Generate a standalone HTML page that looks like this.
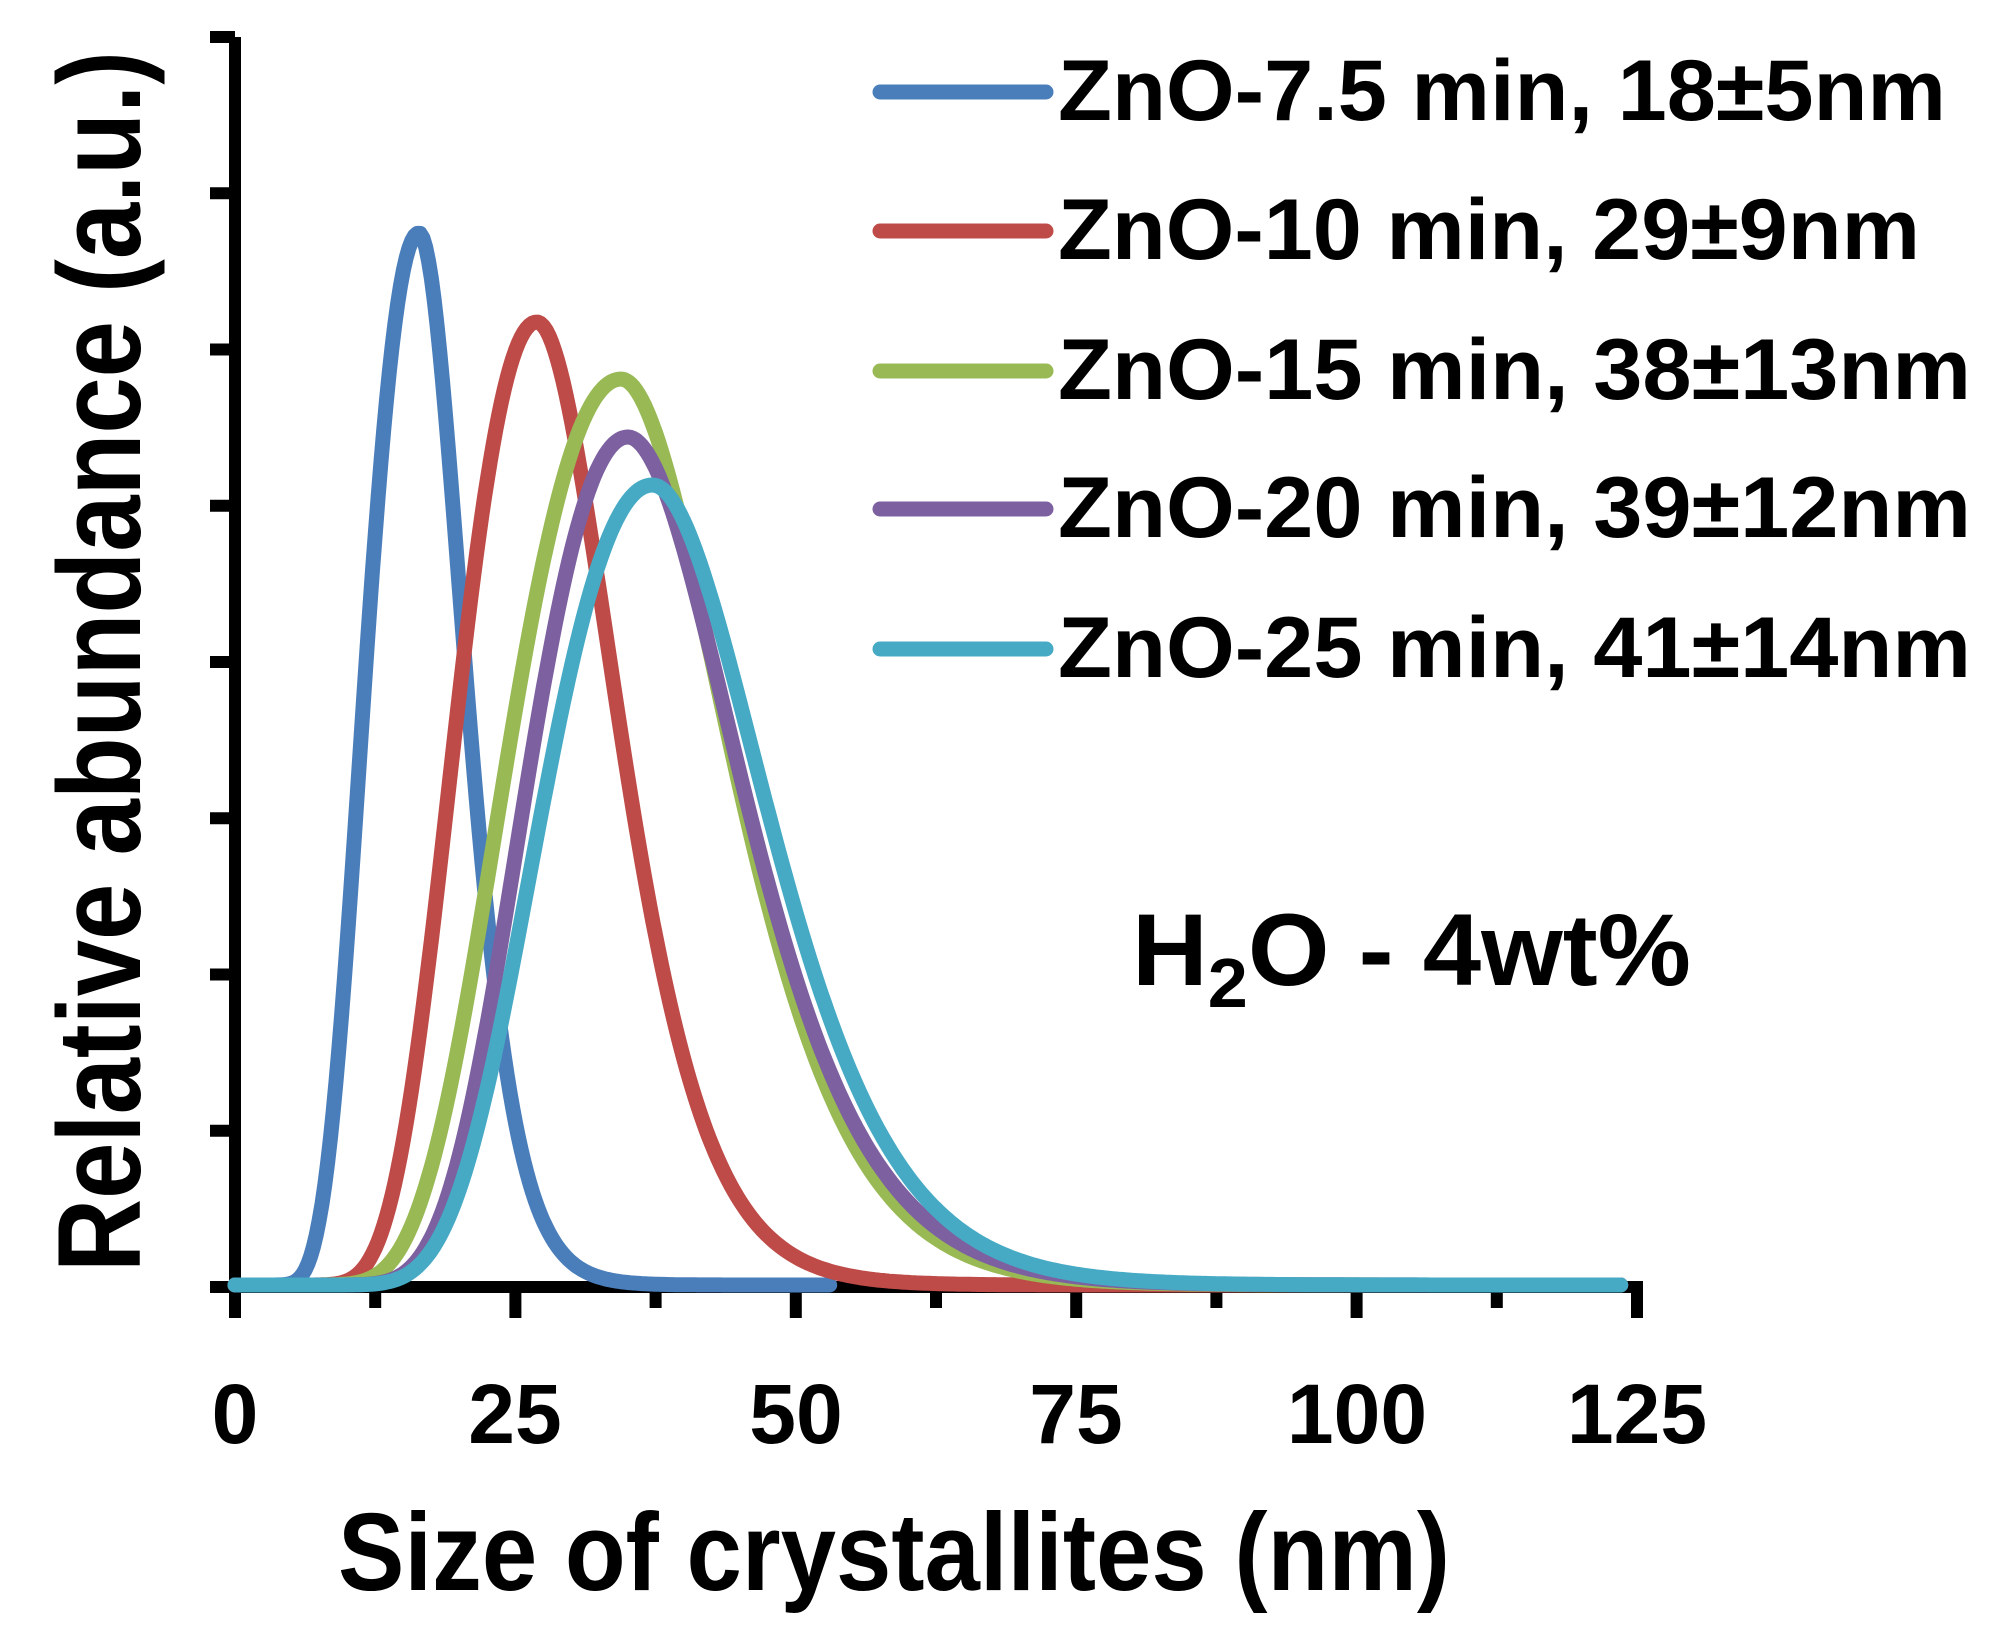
<!DOCTYPE html>
<html><head><meta charset="utf-8"><style>
html,body{margin:0;padding:0;background:#fff;}
svg{display:block;}
text{font-family:"Liberation Sans",sans-serif;font-weight:bold;fill:#000;}
</style></head><body>
<svg id="s" width="1994" height="1641" viewBox="0 0 1994 1641" xmlns="http://www.w3.org/2000/svg">
<rect width="1994" height="1641" fill="#fff"/>
<g id="axes" stroke="#000" stroke-width="12" fill="none">
<line x1="235" y1="37" x2="235" y2="1293"/>
<line x1="223" y1="1287" x2="1643" y2="1287"/>
</g>
<g id="ticks" stroke="#000" stroke-width="12"></g>
<g id="curves" fill="none" stroke-width="15" stroke-linejoin="round" stroke-linecap="round"></g>
<g stroke-width="15" stroke-linecap="round">
<line x1="880" y1="92" x2="1046" y2="92" stroke="#4a7ebb"/>
<line x1="880" y1="231" x2="1046" y2="231" stroke="#be4b48"/>
<line x1="880" y1="371" x2="1046" y2="371" stroke="#98b954"/>
<line x1="880" y1="509" x2="1046" y2="509" stroke="#7d60a0"/>
<line x1="880" y1="649" x2="1046" y2="649" stroke="#46aac5"/>
</g>
<g font-size="86">
<text x="1058" y="120" textLength="888" lengthAdjust="spacingAndGlyphs">ZnO-7.5 min, 18±5nm</text>
<text x="1058" y="259" textLength="862" lengthAdjust="spacingAndGlyphs">ZnO-10 min, 29±9nm</text>
<text x="1058" y="399" textLength="913" lengthAdjust="spacingAndGlyphs">ZnO-15 min, 38±13nm</text>
<text x="1058" y="537" textLength="913" lengthAdjust="spacingAndGlyphs">ZnO-20 min, 39±12nm</text>
<text x="1058" y="677" textLength="913" lengthAdjust="spacingAndGlyphs">ZnO-25 min, 41±14nm</text>
</g>
<text x="1132" y="985" font-size="102" textLength="559" lengthAdjust="spacingAndGlyphs">H<tspan font-size="70" dy="22">2</tspan><tspan dy="-22">O - 4wt%</tspan></text>
<g font-size="84" text-anchor="middle">
<text x="235" y="1443">0</text>
<text x="515" y="1443">25</text>
<text x="796" y="1443">50</text>
<text x="1076" y="1443">75</text>
<text x="1357" y="1443">100</text>
<text x="1637" y="1443">125</text>
</g>
<text x="338" y="1590" font-size="110" textLength="1112" lengthAdjust="spacingAndGlyphs">Size of crystallites (nm)</text>
<text transform="translate(140,1272) rotate(-90)" x="0" y="0" font-size="118" textLength="1221" lengthAdjust="spacingAndGlyphs">Relative abundance (a.u.)</text>
</svg>
<script>
var NS="http://www.w3.org/2000/svg";
var tg=document.getElementById("ticks");
function ln(x1,y1,x2,y2){var l=document.createElementNS(NS,"line");l.setAttribute("x1",x1);l.setAttribute("y1",y1);l.setAttribute("x2",x2);l.setAttribute("y2",y2);tg.appendChild(l);}
for(var k=0;k<=8;k++){var y=1287-156.25*k;ln(210,y,235,y);}
for(var k=0;k<=10;k++){var x=235+k*140.2;ln(x,1287,x,k%2==0?1318:1308);}
var X0=235,SX=11.22,Y0=1285;
var series=[
 {c:"#4a7ebb",m:16.4,l:0.331,r:0.218,h:1052,end:53},
 {c:"#be4b48",m:26.9,l:0.30,r:0.233,h:963,end:123.5},
 {c:"#98b954",m:34.4,l:0.335,r:0.245,h:906,end:123.5},
 {c:"#7d60a0",m:35.0,l:0.289,r:0.25,h:848,end:123.5},
 {c:"#46aac5",m:37.2,l:0.301,r:0.239,h:800,end:123.5}
];
var cg=document.getElementById("curves");
series.forEach(function(S){
 function f(x){if(x<=0.01)return 0;var s=x<S.m?S.l:S.r;var t=Math.log(x/S.m)/s;return Math.exp(-t*t/2);}
 var d="";
 for(var x=0;x<=S.end+1e-9;x+=0.25){var v=f(x);d+=(d?"L":"M")+(X0+x*SX).toFixed(1)+","+(Y0-v*S.h).toFixed(1);}
 var p=document.createElementNS(NS,"path");p.setAttribute("d",d);p.setAttribute("stroke",S.c);cg.appendChild(p);
});
</script>
</body></html>
